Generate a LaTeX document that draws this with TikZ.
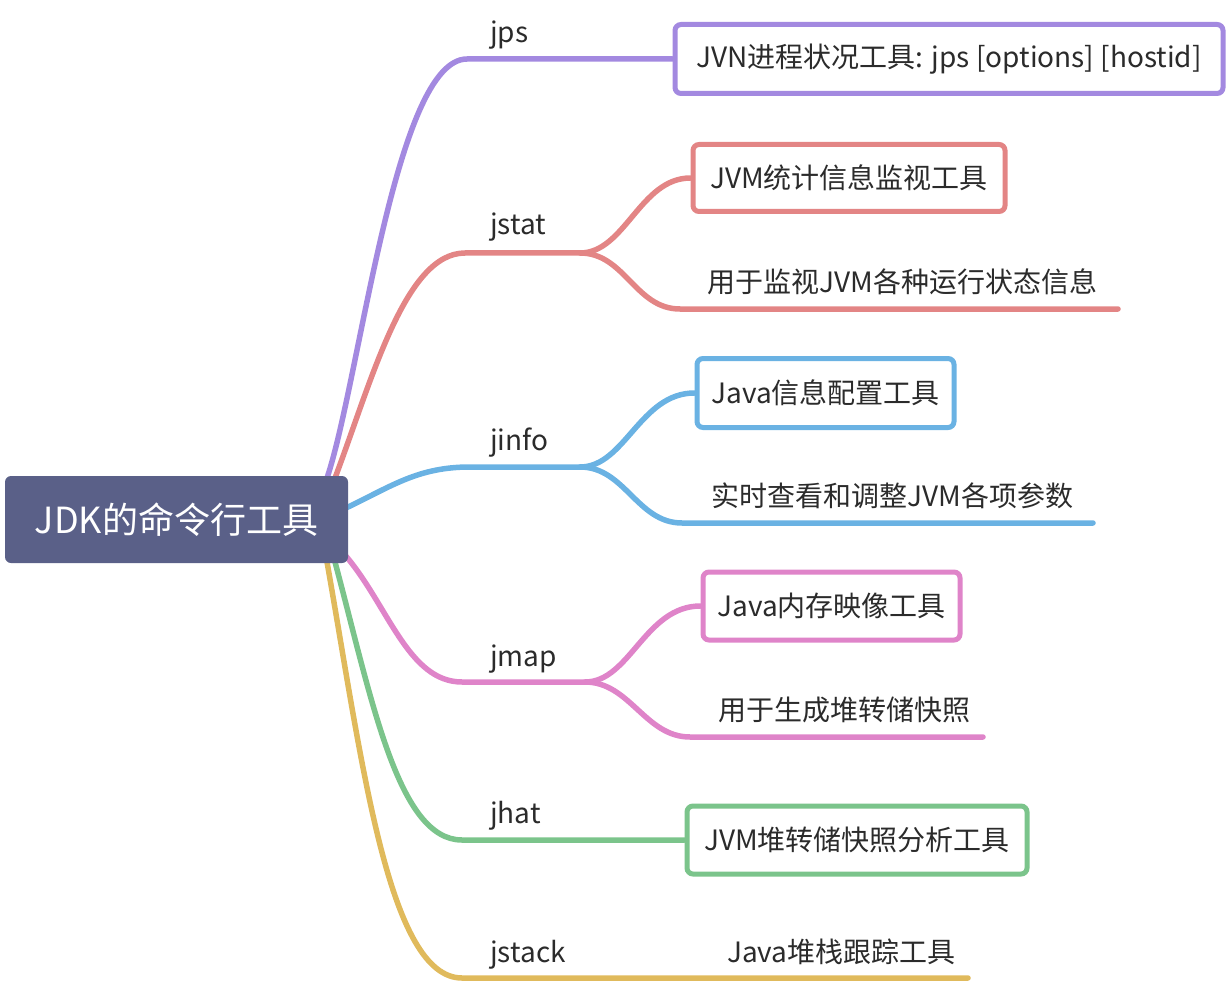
\documentclass[tikz,border=0pt]{standalone}
\usepackage{fontspec}
\setmainfont{Noto Sans CJK SC}
\usetikzlibrary{backgrounds}
\definecolor{cPur}{HTML}{A389E0}
\definecolor{cRed}{HTML}{E38585}
\definecolor{cBlu}{HTML}{6AB2E3}
\definecolor{cPnk}{HTML}{DF84C9}
\definecolor{cGrn}{HTML}{7BC48B}
\definecolor{cYel}{HTML}{E0BA5C}
\definecolor{cRoot}{HTML}{5A6088}
\definecolor{txt}{HTML}{2B2B2B}
\begin{document}
\begin{tikzpicture}[x=1pt,y=-1pt,
  br/.style={line width=5.5pt, line cap=round},
  bx/.style={draw, line width=5pt, rounded corners=6pt, fill=white, inner sep=0pt,
    font=\fontsize{28}{34}\selectfont, text=txt, anchor=west},
  lbl/.style={font=\fontsize{28}{34}\selectfont, text=txt, anchor=base west, inner sep=0pt},
  tx/.style={font=\fontsize{28}{34}\selectfont, text=txt, anchor=west, inner sep=0pt}]
\useasboundingbox (0,0) rectangle (1228,984);

% start points on the root
\coordinate (s1) at (327,478);
\coordinate (s2) at (335,478);
\coordinate (s3) at (346,508);
\coordinate (s4) at (345,555);
\coordinate (s5) at (335,562);
\coordinate (s6) at (327,562);
% junctions
\coordinate (j1) at (467,59);
\coordinate (j2) at (465,253);
\coordinate (j2b) at (580,253);
\coordinate (j3) at (470,467);
\coordinate (j3b) at (580,467);
\coordinate (j4) at (462,682);
\coordinate (j4b) at (585,682);
\coordinate (j5) at (462,840);
\coordinate (j6) at (462,978);
\coordinate (u2) at (680,309);
\coordinate (e2) at (1118,309);
\coordinate (u3) at (682,523);
\coordinate (e3) at (1093,523);
\coordinate (u4) at (690,737);
\coordinate (e4) at (983,737);
\coordinate (e6) at (968,978);

% boxes
\node[bx, draw=cPur, minimum width=548pt, minimum height=69pt] (b1) at (672.5,59) {JVN进程状况工具: jps [options] [hostid]};
\node[bx, draw=cRed, minimum width=312pt, minimum height=67pt] (b2) at (690.5,178) {JVM统计信息监视工具};
\node[bx, draw=cBlu, minimum width=257pt, minimum height=69pt] (b3) at (694.5,393) {Java信息配置工具};
\node[bx, draw=cPnk, minimum width=257pt, minimum height=68pt] (b4) at (700.5,606) {Java内存映像工具};
\node[bx, draw=cGrn, minimum width=340pt, minimum height=68pt] (b5) at (684.5,840) {JVM堆转储快照分析工具};

% root
\node[fill=cRoot, rounded corners=6pt, minimum width=343pt, minimum height=87pt, inner sep=0pt,
  text=white, font=\fontsize{36}{42}\selectfont] (root) at (176.5,519.5) {JDK的命令行工具};

% branches
\begin{scope}[on background layer]
\draw[br, cPur] (s1) .. controls (360,380) and (395,59) .. (j1) -- (b1.west);
\draw[br, cRed] (s2) .. controls (372,380) and (405,253) .. (j2) -- (j2b)
   .. controls (625,253) and (640,178) .. (b2.west);
\draw[br, cRed] (j2b) .. controls (625,253) and (635,309) .. (u2) -- (e2);
\draw[br, cBlu] (s3) .. controls (392,486) and (418,467) .. (j3) -- (j3b)
   .. controls (625,467) and (640,393) .. (b3.west);
\draw[br, cBlu] (j3b) .. controls (625,467) and (637,523) .. (u3) -- (e3);
\draw[br, cPnk] (s4) .. controls (388,605) and (408,682) .. (j4) -- (j4b)
   .. controls (630,682) and (645,606) .. (b4.west);
\draw[br, cPnk] (j4b) .. controls (630,682) and (645,737) .. (u4) -- (e4);
\draw[br, cGrn] (s5) .. controls (372,700) and (398,840) .. (j5) -- (b5.west);
\draw[br, cYel] (s6) .. controls (362,760) and (388,978) .. (j6) -- (e6);
\end{scope}

% labels
\node[lbl] (l1) at (490,43) {jps};
\node[lbl] (l2) at (490,235) {jstat};
\node[lbl] (l3) at (490,450) {jinfo};
\node[lbl] (l4) at (490,666) {jmap};
\node[lbl] (l5) at (490,823) {jhat};
\node[lbl] (l6) at (490,962) {jstack};

\node[tx] (t2) at (707,282) {用于监视JVM各种运行状态信息};
\node[tx] (t3) at (711,496) {实时查看和调整JVM各项参数};
\node[tx] (t4) at (718,710) {用于生成堆转储快照};
\node[tx] (t6) at (727,952) {Java堆栈跟踪工具};
\end{tikzpicture}
\end{document}
